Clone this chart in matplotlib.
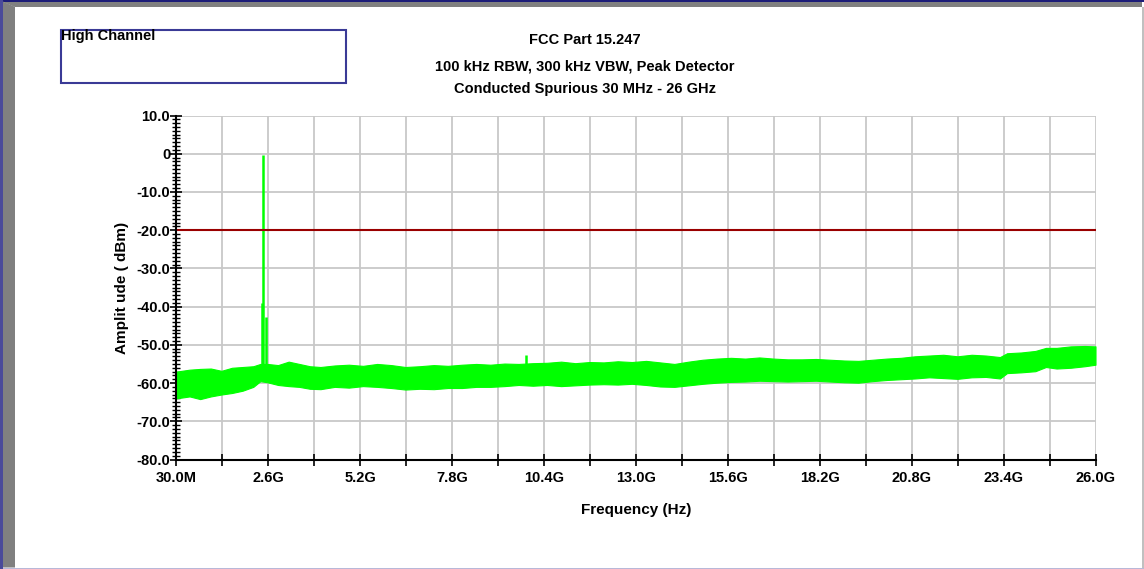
import numpy as np
import matplotlib
matplotlib.use('Agg')
import matplotlib.pyplot as plt
from matplotlib.patches import Rectangle, Polygon

# Trace envelope of the conducted spurious sweep (GHz, dBm)
freq_ghz = [0.03, 0.4, 0.7, 1.0, 1.3, 1.6, 1.9, 2.2, 2.4, 2.6, 2.9, 3.2, 3.5,
            3.8, 4.1, 4.5, 4.9, 5.3, 5.7, 6.1, 6.5, 6.9, 7.3, 7.7, 8.1, 8.5,
            8.9, 9.3, 9.7, 10.1, 10.5, 10.9, 11.3, 11.7, 12.1, 12.5, 12.9,
            13.3, 13.7, 14.1, 14.5, 14.9, 15.3, 15.7, 16.1, 16.5, 16.9, 17.3,
            17.7, 18.1, 18.5, 18.9, 19.3, 19.7, 20.1, 20.5, 20.9, 21.3, 21.7,
            22.1, 22.5, 22.9, 23.3, 23.5, 23.9, 24.3, 24.6, 24.9, 25.3, 25.7,
            26.0]
upper_dbm = [-57.0, -56.5, -56.3, -56.2, -56.8, -56.0, -55.8, -55.6, -55.0,
             -55.0, -55.3, -54.4, -55.0, -55.6, -55.8, -55.4, -55.2, -55.5,
             -55.0, -55.3, -55.8, -55.6, -55.3, -55.5, -55.2, -55.0, -55.2,
             -54.9, -55.0, -54.8, -54.7, -54.4, -54.8, -54.5, -54.6, -54.3,
             -54.5, -54.2, -54.6, -55.0, -54.4, -53.9, -53.6, -53.4, -53.6,
             -53.3, -53.6, -53.8, -53.8, -53.7, -53.9, -54.1, -54.2, -53.9,
             -53.6, -53.4, -53.0, -52.8, -52.6, -53.0, -52.6, -52.8, -53.2,
             -52.2, -52.0, -51.6, -50.8, -50.8, -50.4, -50.3, -50.4]
lower_dbm = [-64.0, -63.5, -64.2, -63.5, -63.0, -62.6, -62.0, -61.0, -59.5,
             -59.8, -60.5, -60.8, -61.0, -61.5, -61.6, -61.0, -61.2, -60.8,
             -61.0, -61.3, -61.7, -61.5, -61.6, -61.3, -61.3, -61.0, -61.0,
             -60.8, -60.5, -60.7, -60.5, -60.8, -60.6, -60.4, -60.3, -60.4,
             -60.2, -60.5, -60.9, -61.0, -60.6, -60.2, -59.9, -59.7, -59.6,
             -59.4, -59.5, -59.6, -59.5, -59.4, -59.6, -59.8, -59.9, -59.5,
             -59.2, -59.0, -58.8, -58.5, -58.7, -58.9, -58.5, -58.4, -58.8,
             -57.4, -57.2, -56.9, -55.8, -56.2, -56.0, -55.6, -55.2]

# Carrier and discrete spurs rising above the floor
spike_ghz = [2.44, 2.48, 2.55, 9.9]
spike_dbm = [-39.1, -0.3, -42.6, -52.6]
spike_base = [-57.0, -57.0, -57.0, -56.0]

limit_dbm = -20.0

x_ticks = np.linspace(0.03, 26.0, 11)
x_labels = ['30.0M', '2.6G', '5.2G', '7.8G', '10.4G', '13.0G', '15.6G',
            '18.2G', '20.8G', '23.4G', '26.0G']
y_ticks = [-80, -70, -60, -50, -40, -30, -20, -10, 0, 10]
y_labels = ['-80.0', '-70.0', '-60.0', '-50.0', '-40.0', '-30.0', '-20.0',
            '-10.0', '0', '10.0']

plt.rcParams['font.family'] = ['Liberation Sans', 'DejaVu Sans']
plt.rcParams['font.weight'] = 'bold'

W, H = 1144, 569
fig = plt.figure(figsize=(W / 100, H / 100), dpi=100)
fig.patch.set_facecolor('white')


def px(x, y):
    return x / W, 1 - y / H


# window frame
def poly(pts, color):
    fig.add_artist(Polygon([px(x, y) for x, y in pts], closed=True,
                           transform=fig.transFigure, facecolor=color,
                           edgecolor='none'))


poly([(0, 0), (W, 0), (W, 1.6), (0, 1.6)], '#1c1c78')
poly([(3, 1.6), (1142, 1.6), (1142, 6.8), (15, 6.8)], '#808080')
poly([(0, 0), (3, 0), (3, H), (0, H)], '#4a4a9a')
poly([(3, 1.6), (15, 6.8), (15, 567.5), (3, 567.5)], '#808080')
poly([(1141.6, 6.8), (W, 6.8), (W, H), (1141.6, H)], '#c0c0c0')
poly([(3, 567.5), (W, 567.5), (W, H), (3, H)], '#b8b8d8')

ax = fig.add_axes([176.5 / W, 1 - 459.5 / H, 919 / W, 344 / H])

ax.fill_between(freq_ghz, lower_dbm, upper_dbm, color='#00ff00', lw=0.8,
                edgecolor='#00ff00', zorder=3)
ax.vlines(spike_ghz, spike_base, spike_dbm, colors='#00ff00', lw=1.8, zorder=3)
ax.axhline(limit_dbm, color='#9a0000', lw=1.5, zorder=4)

ax.set_xlim(0.03, 26.0)
ax.set_ylim(-80, 10)
ax.set_xticks(x_ticks)
ax.set_xticklabels(x_labels)
ax.set_xticks(np.linspace(0.03, 26.0, 21), minor=True)
ax.set_yticks(y_ticks)
ax.set_yticklabels(y_labels)
ax.set_yticks(np.arange(-80, 11, 1), minor=True)

ax.xaxis.grid(True, which='both', color='#c8c8c8', lw=1.3)
ax.yaxis.grid(True, which='major', color='#c8c8c8', lw=1.3)
ax.set_axisbelow(True)

for s in ('top', 'right'):
    ax.spines[s].set_visible(False)
for s in ('left', 'bottom'):
    ax.spines[s].set_linewidth(1.5)
    ax.spines[s].set_zorder(5)

ax.tick_params(axis='x', which='both', direction='inout', length=9, width=1.2,
               labelsize=10.5, pad=4)
ax.tick_params(axis='y', which='major', direction='inout', length=9,
               width=1.2, labelsize=10.5, pad=0)
ax.tick_params(axis='y', which='minor', direction='inout', length=6,
               width=1.0)
for lab in ax.get_xticklabels() + ax.get_yticklabels():
    lab.set_fontweight('bold')

ax.set_xlabel('Frequency (Hz)', fontsize=11, fontweight='bold',
              labelpad=13)
ax.set_ylabel('Amplit ude ( dBm)', fontsize=11, fontweight='bold',
              labelpad=5)

# header text
for y, txt in [(40, 'FCC Part 15.247'),
               (66, '100 kHz RBW, 300 kHz VBW, Peak Detector'),
               (89, 'Conducted Spurious 30 MHz - 26 GHz')]:
    fig.text(*px(585, y), txt, ha='center', va='center', fontsize=10.5,
             fontweight='bold')

fig.add_artist(Rectangle(px(61, 83), 285 / W, 53 / H,
                         transform=fig.transFigure, facecolor='none',
                         edgecolor='#3a3a96', lw=1.5))
fig.text(*px(61, 29), 'High Channel', ha='left', va='top', fontsize=10.5,
         fontweight='bold')

fig.savefig('out.png', dpi=100)
